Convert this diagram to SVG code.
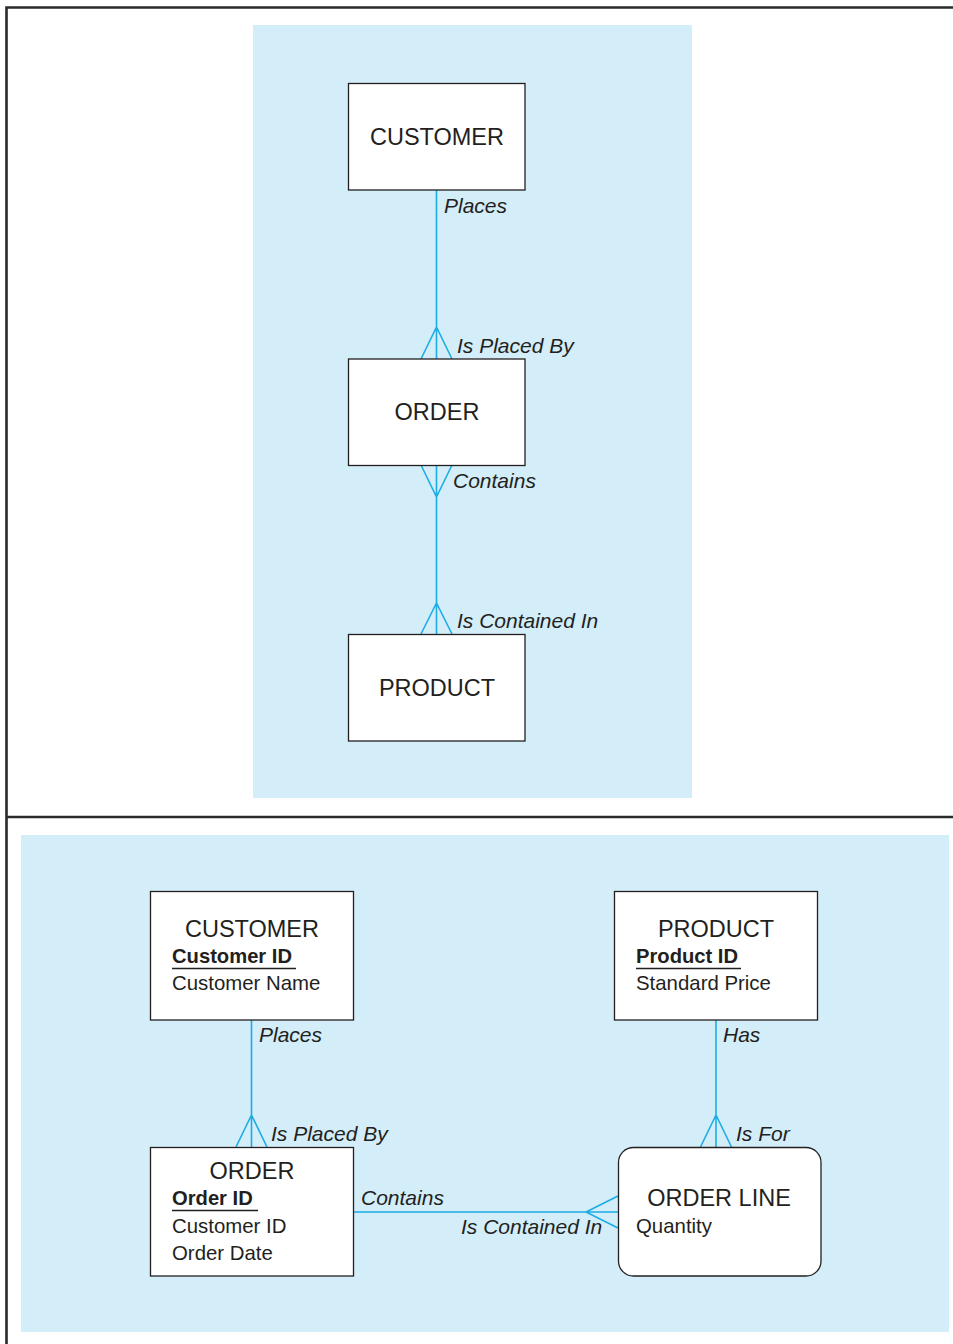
<svg xmlns="http://www.w3.org/2000/svg" width="953" height="1344" viewBox="0 0 953 1344">
<style>
.frame{stroke:#2b2a2a;stroke-width:2.6;fill:none}
.bg{fill:#d3edf9}
.box{fill:#fff;stroke:#231f20;stroke-width:1.3}
.ln{stroke:#1cade4;stroke-width:1.6;fill:none}
.t{font-family:"Liberation Sans",Arial,sans-serif;fill:#231f20}
.title{font-size:23.5px;text-anchor:middle}
.lab{font-size:21px;font-style:italic}
.at{font-size:20.4px}
.pk{font-size:20.2px;font-weight:bold}
.ul{stroke:#231f20;stroke-width:1.5}
</style>
<rect width="953" height="1344" fill="#fff"/>
<g id="frame">
<path class="frame" d="M6.5 1344V7.5H953M6.5 817H953"/>
</g>
<rect class="bg" x="253" y="25" width="439" height="773"/>
<rect class="bg" x="21" y="835" width="928" height="497"/>
<g id="connectors">
<path class="ln" d="M436.5 190V359M421 359L436.5 327L452 359"/>
<path class="ln" d="M436.5 465V634M421 465L436.5 497L452 465M421 634L436.5 603L452 634"/>
<path class="ln" d="M251.5 1020V1147M236 1147L251.5 1115L267 1147"/>
<path class="ln" d="M716 1020V1147M700.5 1147L716 1115L731.5 1147"/>
<path class="ln" d="M353 1212H618M618 1196L586 1212L618 1228"/>
</g>
<g id="top-customer">
<rect class="box" x="348.5" y="83.5" width="176.5" height="106.5"/>
<text class="t title" x="437" y="145">CUSTOMER</text>
</g>
<g id="top-order">
<rect class="box" x="348.5" y="359" width="176.5" height="106.5"/>
<text class="t title" x="437" y="420">ORDER</text>
</g>
<g id="top-product">
<rect class="box" x="348.5" y="634.5" width="176.5" height="106.5"/>
<text class="t title" x="437" y="696">PRODUCT</text>
</g>
<g id="top-labels">
<text class="t lab" x="444" y="213">Places</text>
<text class="t lab" x="457" y="353">Is Placed By</text>
<text class="t lab" x="453" y="488">Contains</text>
<text class="t lab" x="457" y="628">Is Contained In</text>
</g>
<g id="customer">
<rect class="box" x="150.5" y="891.5" width="203" height="128.5"/>
<text class="t title" x="252" y="937">CUSTOMER</text>
<text class="t pk" x="172" y="963">Customer ID</text>
<line class="ul" x1="172" y1="968.5" x2="296" y2="968.5"/>
<text class="t at" x="172" y="990">Customer Name</text>
</g>
<g id="product">
<rect class="box" x="614.5" y="891.5" width="203" height="128.5"/>
<text class="t title" x="716" y="937">PRODUCT</text>
<text class="t pk" x="636" y="963">Product ID</text>
<line class="ul" x1="636" y1="968.5" x2="741" y2="968.5"/>
<text class="t at" x="636" y="990">Standard Price</text>
</g>
<g id="order">
<rect class="box" x="150.5" y="1147.5" width="203" height="128.5"/>
<text class="t title" x="252" y="1179">ORDER</text>
<text class="t pk" x="172" y="1205">Order ID</text>
<line class="ul" x1="172" y1="1210.5" x2="258" y2="1210.5"/>
<text class="t at" x="172" y="1233">Customer ID</text>
<text class="t at" x="172" y="1260">Order Date</text>
</g>
<g id="order-line">
<rect class="box" x="618.5" y="1147.5" width="202.5" height="128.5" rx="15"/>
<text class="t title" x="719" y="1206">ORDER LINE</text>
<text class="t at" x="636" y="1233">Quantity</text>
</g>
<g id="bottom-labels">
<text class="t lab" x="259" y="1042">Places</text>
<text class="t lab" x="723" y="1042">Has</text>
<text class="t lab" x="271" y="1141">Is Placed By</text>
<text class="t lab" x="736" y="1141">Is For</text>
<text class="t lab" x="361" y="1205">Contains</text>
<text class="t lab" x="461" y="1234">Is Contained In</text>
</g>
</svg>
